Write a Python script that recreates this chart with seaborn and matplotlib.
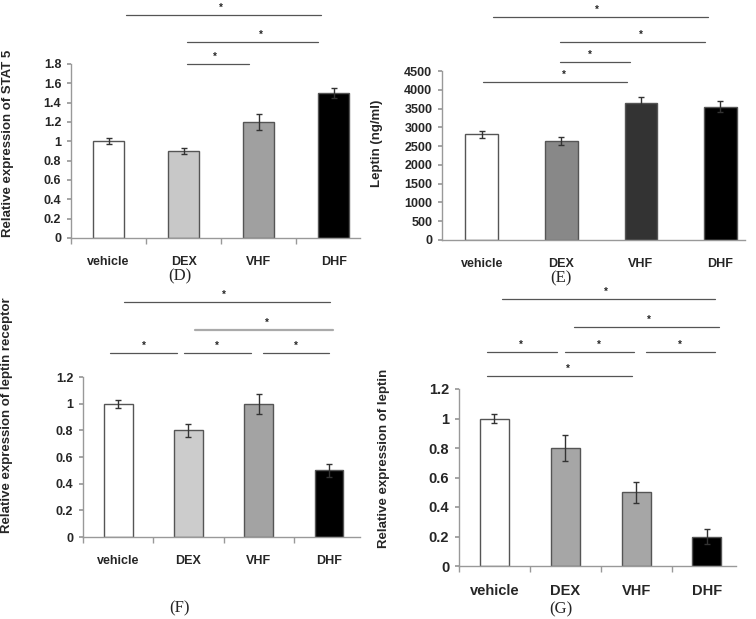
import numpy as np
import pandas as pd
import matplotlib
matplotlib.use("Agg")
import matplotlib.pyplot as plt
import seaborn as sns
from matplotlib.ticker import FuncFormatter

# groups shared by all four panels
groups = ["vehicle", "DEX", "VHF", "DHF"]

# (D) STAT 5
stat5_mean = [1.0, 0.9, 1.2, 1.5]
stat5_err = [0.03, 0.03, 0.08, 0.05]
# (E) serum leptin
serum_mean = [2820, 2635, 3650, 3550]
serum_err = [95, 100, 170, 150]
# (F) leptin receptor
lepr_mean = [1.0, 0.8, 1.0, 0.5]
lepr_err = [0.03, 0.05, 0.075, 0.05]
# (G) leptin
leptin_mean = [1.0, 0.8, 0.5, 0.2]
leptin_err = [0.03, 0.09, 0.07, 0.05]

# significance brackets: (x start, x end, level, star x)
brackets_d = [(0.23, 2.83, 2.31, 1.49), (1.04, 2.79, 2.03, 2.03), (1.04, 1.87, 1.80, 1.42)]
brackets_e = [(0.14, 2.84, 5940, 1.45), (0.99, 2.81, 5270, 2.0),
              (0.99, 1.86, 4740, 1.36), (0.01, 1.82, 4210, 1.03)]
brackets_f = [(0.09, 3.01, 1.76, 1.50), (1.09, 3.06, 1.55, 2.11),
              (-0.11, 0.84, 1.38, 0.36), (0.94, 1.89, 1.38, 1.41), (2.06, 3.0, 1.38, 2.53)]
brackets_g = [(0.11, 3.11, 1.81, 1.57), (1.13, 3.17, 1.62, 2.18),
              (-0.10, 0.88, 1.45, 0.38), (0.99, 1.97, 1.45, 1.47), (2.14, 3.11, 1.45, 2.62),
              (-0.10, 1.94, 1.29, 1.03)]

sns.set_theme(style="white")
plt.rcParams['font.family'] = 'Liberation Sans'
plt.rcParams['font.weight'] = 'bold'
plt.rcParams['axes.labelweight'] = 'bold'

W, H = 756, 619
fig = plt.figure(figsize=(W / 100, H / 100), dpi=100)


def px_axes(left, right, top, bottom):
    return fig.add_axes([left / W, 1 - bottom / H, (right - left) / W, (bottom - top) / H])


def draw_panel(ax, means, errs, colors, ymax, ystep, xmax, ylabel, label_pos,
               brackets, boundary_ticks=True, light=(), tick_size=9):
    df = pd.DataFrame({"group": groups, "value": means})
    sns.barplot(data=df, x="group", y="value", hue="group", palette=colors,
                width=0.41, edgecolor="#555555", linewidth=1.0, legend=False,
                errorbar=None, ax=ax)
    ax.errorbar(np.arange(len(groups)), means, yerr=errs, fmt="none",
                ecolor="#333333", elinewidth=1.0, capsize=2.0, capthick=1.0, zorder=5)
    ax.set_xlim(-0.5, xmax)
    ax.set_ylim(0, ymax)
    ax.set_yticks(np.arange(0, ymax + ystep / 2, ystep))
    ax.yaxis.set_major_formatter(FuncFormatter(lambda v, p: f"{v:g}"))
    for s in ["top", "right"]:
        ax.spines[s].set_visible(False)
    for s in ["left", "bottom"]:
        ax.spines[s].set_color("#999999")
        ax.spines[s].set_linewidth(1.0)
    ax.tick_params(axis="y", left=True, length=3, color="#999999", pad=4,
                   labelsize=tick_size)
    ax.tick_params(axis="x", bottom=False, pad=7, labelsize=tick_size)
    if boundary_ticks:
        ax.set_xticks(np.arange(len(groups)) - 0.5, minor=True)
        ax.tick_params(axis="x", which="minor", bottom=True, length=4, color="#999999")
    for lab in ax.get_xticklabels() + ax.get_yticklabels():
        lab.set_fontweight("bold")
    ax.set_xlabel("")
    ax.set_ylabel(ylabel, fontsize=9.5, fontweight="bold")
    ax.yaxis.set_label_coords(*label_pos)
    for i, (x0, x1, y, xs) in enumerate(brackets):
        if i in light:
            ax.plot([x0, x1], [y, y], color="#aaaaaa", lw=1.6, clip_on=False)
        else:
            ax.plot([x0, x1], [y, y], color="#555555", lw=0.9, clip_on=False)
        ax.annotate("*", (xs, y), xytext=(0, 1.5), textcoords="offset points",
                    ha="center", va="bottom", fontsize=7, annotation_clip=False)


ax_d = px_axes(71, 360, 64, 238)
draw_panel(ax_d, stat5_mean, stat5_err, ["white", "#c8c8c8", "#a0a0a0", "black"],
           1.8, 0.2, 3.35, "Relative expression of STAT 5", (-0.197, 0.546), brackets_d)

ax_e = px_axes(442, 745, 71, 240)
draw_panel(ax_e, serum_mean, serum_err, ["white", "#888888", "#333333", "black"],
           4500, 500, 3.31, "Leptin (ng/ml)", (-0.195, 0.574), brackets_e,
           boundary_ticks=False)

ax_f = px_axes(83, 360, 377, 537)
draw_panel(ax_f, lepr_mean, lepr_err, ["white", "#cccccc", "#a3a3a3", "black"],
           1.2, 0.2, 3.44, "Relative expression of leptin receptor", (-0.253, 0.76),
           brackets_f, light=(1,))

ax_g = px_axes(459, 736, 389, 566)
draw_panel(ax_g, leptin_mean, leptin_err, ["white", "#a6a6a6", "#a6a6a6", "black"],
           1.2, 0.2, 3.41, "Relative expression of leptin", (-0.249, 0.61), brackets_g,
           tick_size=10.5)

# panel captions
for label, x, y in [("(D)", 180, 276), ("(E)", 561, 278), ("(F)", 180, 608), ("(G)", 561, 609)]:
    fig.text(x / W, 1 - y / H, label, ha="center", va="center", fontsize=12,
             fontweight="normal", family="Liberation Serif")

fig.savefig("out.png", dpi=100)
